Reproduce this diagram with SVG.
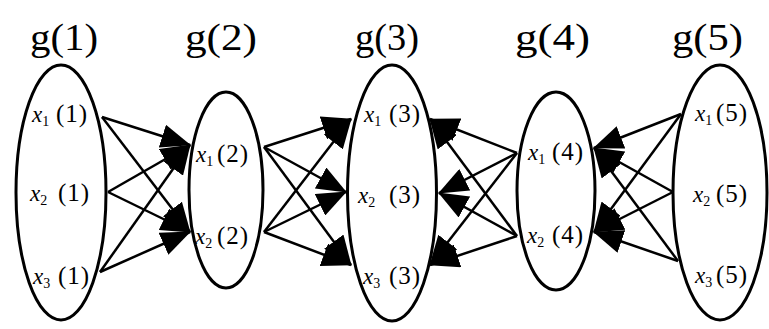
<svg xmlns="http://www.w3.org/2000/svg" width="769" height="329" viewBox="0 0 769 329">
<defs>
<style>
.node ellipse{fill:#fff;stroke:#000;stroke-width:3}
.title{font-family:"Liberation Serif","Times New Roman","DejaVu Serif",serif;font-size:38px;fill:#000}
.lbl{font-family:"Liberation Serif","Times New Roman","DejaVu Serif",serif;font-size:25px;fill:#000;letter-spacing:1px}
.v{font-style:italic;font-size:23px;letter-spacing:0}
.sub{font-size:14px;letter-spacing:0}
#edges line{stroke:#000;stroke-width:2.5;marker-end:url(#ah)}
</style>
<marker id="ah" markerUnits="userSpaceOnUse" markerWidth="30" markerHeight="24" refX="29" refY="12" orient="auto" viewBox="0 0 30 24">
<path d="M0,0 L30,12 L0,24 z" fill="#000"/>
</marker>
</defs>
<rect width="769" height="329" fill="#fff"/>
<g id="titles">
<text class="title" x="30" y="50" textLength="68" lengthAdjust="spacingAndGlyphs">g(1)</text>
<text class="title" x="185" y="50" textLength="72" lengthAdjust="spacingAndGlyphs">g(2)</text>
<text class="title" x="355" y="50" textLength="64" lengthAdjust="spacingAndGlyphs">g(3)</text>
<text class="title" x="515" y="50" textLength="75" lengthAdjust="spacingAndGlyphs">g(4)</text>
<text class="title" x="672" y="50" textLength="71" lengthAdjust="spacingAndGlyphs">g(5)</text>
</g>
<g id="node-g1" class="node">
<ellipse cx="61" cy="192.5" rx="45" ry="127.5"/>
<text class="lbl" x="32" y="122"><tspan class="v">x</tspan><tspan class="sub" dy="4">1</tspan><tspan x="56" dy="-4">(1)</tspan></text>
<text class="lbl" x="30" y="201"><tspan class="v">x</tspan><tspan class="sub" dy="4">2</tspan><tspan x="58" dy="-4">(1)</tspan></text>
<text class="lbl" x="33" y="284"><tspan class="v">x</tspan><tspan class="sub" dy="4">3</tspan><tspan x="58" dy="-4">(1)</tspan></text>
</g>
<g id="node-g2" class="node">
<ellipse cx="226" cy="190" rx="37" ry="98"/>
<text class="lbl" x="196" y="162"><tspan class="v">x</tspan><tspan class="sub" dy="4">1</tspan><tspan x="217" dy="-4">(2)</tspan></text>
<text class="lbl" x="195" y="244"><tspan class="v">x</tspan><tspan class="sub" dy="4">2</tspan><tspan x="217" dy="-4">(2)</tspan></text>
</g>
<g id="node-g3" class="node">
<ellipse cx="392" cy="193" rx="44.5" ry="128"/>
<text class="lbl" x="364" y="122"><tspan class="v">x</tspan><tspan class="sub" dy="4">1</tspan><tspan x="389" dy="-4">(3)</tspan></text>
<text class="lbl" x="358" y="203"><tspan class="v">x</tspan><tspan class="sub" dy="4">2</tspan><tspan x="389" dy="-4">(3)</tspan></text>
<text class="lbl" x="363" y="284"><tspan class="v">x</tspan><tspan class="sub" dy="4">3</tspan><tspan x="389" dy="-4">(3)</tspan></text>
</g>
<g id="node-g4" class="node">
<ellipse cx="556" cy="191" rx="39" ry="99"/>
<text class="lbl" x="528" y="160"><tspan class="v">x</tspan><tspan class="sub" dy="4">1</tspan><tspan x="552" dy="-4">(4)</tspan></text>
<text class="lbl" x="527" y="243"><tspan class="v">x</tspan><tspan class="sub" dy="4">2</tspan><tspan x="552" dy="-4">(4)</tspan></text>
</g>
<g id="node-g5" class="node">
<ellipse cx="720" cy="192.5" rx="47" ry="127.5"/>
<text class="lbl" x="695" y="121"><tspan class="v">x</tspan><tspan class="sub" dy="4">1</tspan><tspan x="716" dy="-4">(5)</tspan></text>
<text class="lbl" x="693" y="202"><tspan class="v">x</tspan><tspan class="sub" dy="4">2</tspan><tspan x="716" dy="-4">(5)</tspan></text>
<text class="lbl" x="695" y="283"><tspan class="v">x</tspan><tspan class="sub" dy="4">3</tspan><tspan x="716" dy="-4">(5)</tspan></text>
</g>
<g id="edges">
<line x1="102" y1="117" x2="190" y2="145"/>
<line x1="108" y1="192" x2="190" y2="145"/>
<line x1="100" y1="272" x2="190" y2="145"/>
<line x1="102" y1="117" x2="190" y2="232"/>
<line x1="108" y1="192" x2="190" y2="232"/>
<line x1="100" y1="272" x2="190" y2="232"/>
<line x1="264" y1="147" x2="351" y2="119"/>
<line x1="264" y1="232" x2="351" y2="119"/>
<line x1="264" y1="147" x2="346" y2="192"/>
<line x1="264" y1="232" x2="346" y2="192"/>
<line x1="264" y1="147" x2="351" y2="265"/>
<line x1="264" y1="232" x2="351" y2="265"/>
<line x1="517" y1="153" x2="430" y2="119"/>
<line x1="517" y1="236" x2="430" y2="119"/>
<line x1="517" y1="153" x2="439" y2="193"/>
<line x1="517" y1="236" x2="439" y2="193"/>
<line x1="517" y1="153" x2="430" y2="265"/>
<line x1="517" y1="236" x2="430" y2="265"/>
<line x1="681" y1="114" x2="594" y2="148"/>
<line x1="673" y1="192" x2="594" y2="148"/>
<line x1="678" y1="261" x2="594" y2="148"/>
<line x1="681" y1="114" x2="594" y2="232"/>
<line x1="673" y1="192" x2="594" y2="232"/>
<line x1="678" y1="261" x2="594" y2="232"/>
</g>
</svg>
